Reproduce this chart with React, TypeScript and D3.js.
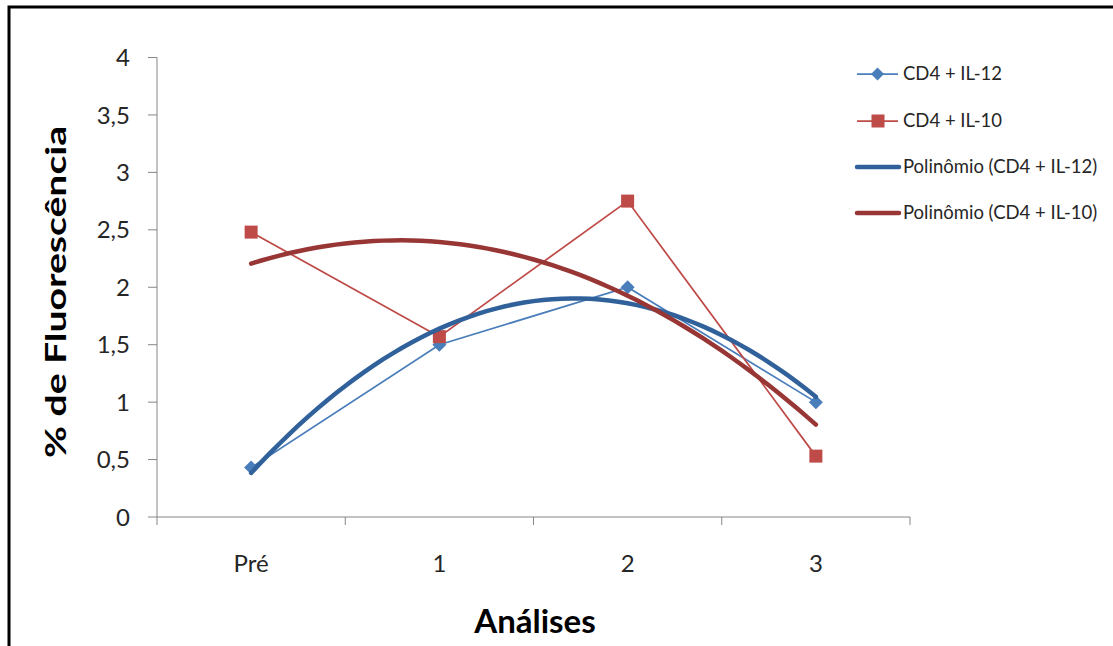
import React from 'react';
import * as d3 from 'd3';

// categories and series
const categories = ['Pré', '1', '2', '3'];
const il12 = [0.43, 1.5, 2.0, 1.0];
const il10 = [2.48, 1.57, 2.75, 0.53];
const yTicks = [0, 0.5, 1, 1.5, 2, 2.5, 3, 3.5, 4];
const legendLabels = ['CD4 + IL-12', 'CD4 + IL-10', 'Polinômio (CD4 + IL-12)', 'Polinômio (CD4 + IL-10)'];

const FONT = 'Lato, "Open Sans", sans-serif';

// 2nd order least squares fit, x = 1..n (like Excel's polynomial trendline)
function polyfit2(ys: number[]) {
  const xs = ys.map((_, i) => i + 1);
  const S = (f: (x: number, y: number) => number) => d3.sum(xs, (x, i) => f(x, ys[i]));
  const n = ys.length;
  const sx = S(x => x), sx2 = S(x => x * x), sx3 = S(x => x ** 3), sx4 = S(x => x ** 4);
  const sy = S((x, y) => y), sxy = S((x, y) => x * y), sx2y = S((x, y) => x * x * y);
  // solve 3x3 by Cramer's rule
  const det = (m: number[][]) =>
    m[0][0] * (m[1][1] * m[2][2] - m[1][2] * m[2][1]) -
    m[0][1] * (m[1][0] * m[2][2] - m[1][2] * m[2][0]) +
    m[0][2] * (m[1][0] * m[2][1] - m[1][1] * m[2][0]);
  const A = [[n, sx, sx2], [sx, sx2, sx3], [sx2, sx3, sx4]];
  const b = [sy, sxy, sx2y];
  const D = det(A);
  const coef = [0, 1, 2].map(k => det(A.map((row, r) => row.map((v, c) => (c === k ? b[r] : v)))) / D);
  return (x: number) => coef[0] + coef[1] * x + coef[2] * x * x;
}

const App: React.FC = () => {
  const width = 1113;
  const height = 646;
  const left = 157, right = 910, top = 57.5, bottom = 517;

  const x = d3.scaleBand<string>().domain(categories).range([left, right]);
  const bw = x.bandwidth();
  const cx = (c: string) => (x(c) as number) + bw / 2;
  const y = d3.scaleLinear().domain([0, 4]).range([bottom, top]);
  const tx = d3.scaleLinear().domain([1, categories.length]).range([cx(categories[0]), cx(categories[categories.length - 1])]);

  const line = d3.line<number>().x((_, i) => cx(categories[i])).y(d => y(d));

  const ts = d3.range(1, categories.length + 0.001, 0.05);
  const trend = (vals: number[]) => {
    const f = polyfit2(vals);
    return d3.line<number>().x(t => tx(t)).y(t => y(f(t)))(ts) as string;
  };

  const blue = '#4A7EBB';
  const red = '#BE4B48';
  const blueTrend = '#31619A';
  const redTrend = '#973634';
  const axisColor = '#868686';
  const textColor = '#262626';

  const diamond = (px: number, py: number, r: number) => `M${px},${py - r}L${px + r},${py}L${px},${py + r}L${px - r},${py}Z`;

  const boundaries = [...categories.map(c => x(c) as number), right];

  const legendY = [74, 121, 167, 213];

  return (
    <svg width={width} height={height} style={{ position: 'absolute', left: 0, top: 0, background: '#fff' }}>
      <rect x={9} y={7} width={1300} height={800} fill="#fff" stroke="#000" strokeWidth={3} />

      {/* y axis */}
      <line x1={left} x2={left} y1={top} y2={bottom} stroke={axisColor} strokeWidth={1} />
      {yTicks.map(t => (
        <g key={t}>
          <line x1={left - 9} x2={left} y1={y(t)} y2={y(t)} stroke={axisColor} strokeWidth={1} />
          <text x={130} y={y(t)} dy="0.36em" textAnchor="end" fontFamily={FONT} fontSize={24} fill={textColor}>
            {String(t).replace('.', ',')}
          </text>
        </g>
      ))}

      {/* x axis */}
      <line x1={left} x2={right} y1={bottom} y2={bottom} stroke={axisColor} strokeWidth={1} />
      {boundaries.map((b, i) => (
        <line key={i} x1={b} x2={b} y1={bottom} y2={bottom + 8} stroke={axisColor} strokeWidth={1} />
      ))}
      {categories.map(c => (
        <text key={c} x={cx(c)} y={572} textAnchor="middle" fontFamily={FONT} fontSize={24} fill={textColor}>
          {c}
        </text>
      ))}

      {/* axis titles */}
      <text transform="translate(66,292) rotate(-90)" textAnchor="middle" fontFamily={FONT} fontWeight="bold" fontSize={29}
        textLength={332} lengthAdjust="spacingAndGlyphs" fill="#000">
        % de Fluorescência
      </text>
      <text x={535} y={633} textAnchor="middle" fontFamily={FONT} fontWeight="bold" fontSize={33} fill="#000">
        Análises
      </text>

      {/* series */}
      <path d={line(il12) as string} fill="none" stroke={blue} strokeWidth={1.75} />
      <path d={line(il10) as string} fill="none" stroke={red} strokeWidth={1.75} />
      {il12.map((v, i) => (
        <path key={'d' + i} d={diamond(cx(categories[i]), y(v), 7)} fill={blue} />
      ))}
      {il10.map((v, i) => (
        <rect key={'s' + i} x={cx(categories[i]) - 6.5} y={y(v) - 6.5} width={13} height={13} fill={red} />
      ))}

      {/* trendlines */}
      <path d={trend(il12)} fill="none" stroke={blueTrend} strokeWidth={4.5} strokeLinecap="round" />
      <path d={trend(il10)} fill="none" stroke={redTrend} strokeWidth={4.5} strokeLinecap="round" />

      {/* legend */}
      <g>
        <line x1={857} x2={898} y1={legendY[0]} y2={legendY[0]} stroke={blue} strokeWidth={1.75} />
        <path d={diamond(877.5, legendY[0], 6.5)} fill={blue} />
        <line x1={857} x2={898} y1={legendY[1]} y2={legendY[1]} stroke={red} strokeWidth={1.75} />
        <rect x={871.5} y={legendY[1] - 6.5} width={13} height={13} fill={red} />
        <line x1={857} x2={899} y1={legendY[2]} y2={legendY[2]} stroke={blueTrend} strokeWidth={4.5} strokeLinecap="round" />
        <line x1={857} x2={899} y1={legendY[3]} y2={legendY[3]} stroke={redTrend} strokeWidth={4.5} strokeLinecap="round" />
        {legendLabels.map((l, i) => (
          <text key={l} x={903} y={legendY[i]} dy="0.34em" fontFamily={FONT} fontSize={18.5} fill={textColor}>
            {l}
          </text>
        ))}
      </g>
    </svg>
  );
};

export default App;
